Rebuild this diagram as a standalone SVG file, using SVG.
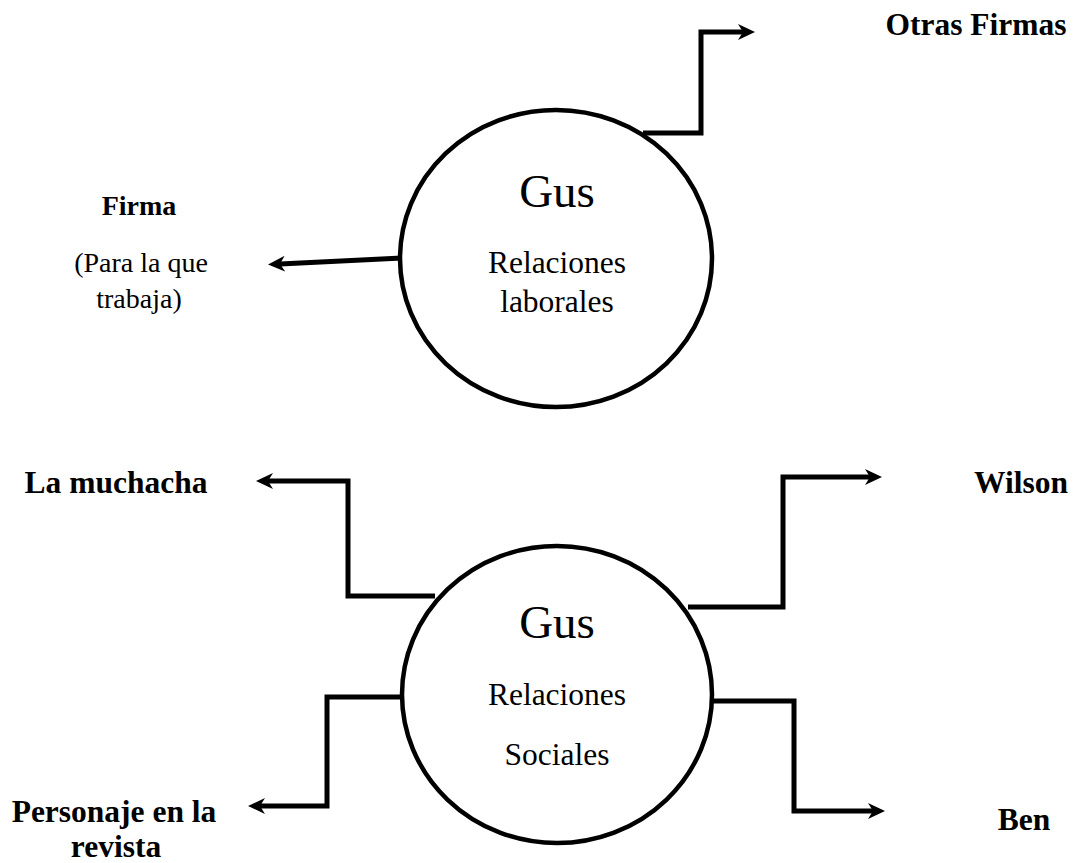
<svg xmlns="http://www.w3.org/2000/svg" width="1084" height="863" viewBox="0 0 1084 863">
  <style>
    .node { fill: #ffffff; stroke: #000000; stroke-width: 4.5; }
    .conn { fill: none; stroke: #000000; stroke-width: 5; stroke-linejoin: miter; stroke-linecap: butt; }
    .big { font-family: "Liberation Serif", "Times New Roman", serif; font-size: 47px; fill: #000; text-anchor: middle; }
    .mid { font-family: "Liberation Serif", "Times New Roman", serif; font-size: 31.5px; fill: #000; text-anchor: middle; }
    .lbl { font-family: "Liberation Serif", "Times New Roman", serif; font-size: 31.5px; font-weight: bold; fill: #000; text-anchor: middle; }
    .lbl2 { font-family: "Liberation Serif", "Times New Roman", serif; font-size: 28px; font-weight: bold; fill: #000; text-anchor: middle; }
    .reg { font-family: "Liberation Serif", "Times New Roman", serif; font-size: 28px; fill: #000; text-anchor: middle; }
  </style>
  <defs>
    <marker id="arr" markerUnits="userSpaceOnUse" markerWidth="20" markerHeight="20" viewBox="0 -10 20 20" refX="5" refY="0" orient="auto">
      <path d="M0,-8 L17,0 L0,8 L5,0 Z" fill="#000"/>
    </marker>
  </defs>

  <g id="connectors">
    <polyline class="conn" points="643,133 701,133 701,32 743,32" marker-end="url(#arr)"/>
    <polyline class="conn" points="402,258 280,264" marker-end="url(#arr)"/>
    <polyline class="conn" points="435,596 348,596 348,481 268,481" marker-end="url(#arr)"/>
    <polyline class="conn" points="688,607 783,607 783,477 870,477" marker-end="url(#arr)"/>
    <polyline class="conn" points="410,697 327,697 327,806 260,806" marker-end="url(#arr)"/>
    <polyline class="conn" points="703,701 794,701 794,811 873,811" marker-end="url(#arr)"/>
  </g>

  <g id="gus-laborales">
    <ellipse class="node" cx="556" cy="258.5" rx="156" ry="148.5"/>
    <text class="big" x="557" y="207">Gus</text>
    <text class="mid" x="557" y="273">Relaciones</text>
    <text class="mid" x="557" y="312">laborales</text>
  </g>

  <g id="gus-sociales">
    <ellipse class="node" cx="557" cy="694.5" rx="155" ry="148.5"/>
    <text class="big" x="557" y="638">Gus</text>
    <text class="mid" x="557" y="705">Relaciones</text>
    <text class="mid" x="557" y="765">Sociales</text>
  </g>

  <g id="otras-firmas">
    <text class="lbl" x="976" y="35">Otras Firmas</text>
  </g>
  <g id="firma">
    <text class="lbl2" x="139" y="215">Firma</text>
    <text class="reg" x="141" y="272">(Para la que</text>
    <text class="reg" x="139" y="308">trabaja)</text>
  </g>
  <g id="la-muchacha">
    <text class="lbl" x="116" y="493">La muchacha</text>
  </g>
  <g id="wilson">
    <text class="lbl" x="1021" y="493">Wilson</text>
  </g>
  <g id="personaje">
    <text class="lbl" x="114" y="822">Personaje en la</text>
    <text class="lbl" x="116" y="857">revista</text>
  </g>
  <g id="ben">
    <text class="lbl" x="1024" y="830">Ben</text>
  </g>
</svg>
